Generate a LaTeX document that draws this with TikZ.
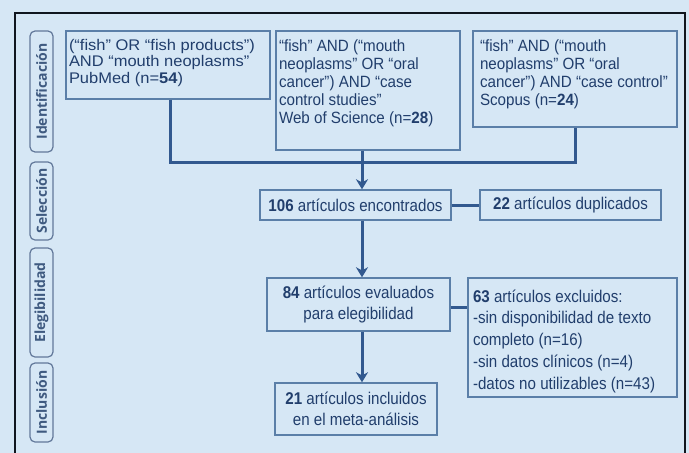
\documentclass[tikz,border=0pt]{standalone}
\usepackage{fontspec}
\setmainfont{Liberation Sans}
\newfontfamily\fA[FakeStretch=1.07]{Liberation Sans}
\newfontfamily\fB[FakeStretch=0.93]{Liberation Sans}
\newfontfamily\fC[FakeStretch=0.89]{Liberation Sans}
\newfontfamily\tabfont{Open Sans}
\usetikzlibrary{arrows.meta}

\definecolor{bgc}{HTML}{D6E7F5}
\definecolor{txt}{HTML}{213E6C}
\definecolor{boxc}{HTML}{5B7FA8}
\definecolor{conn}{HTML}{32598F}
\definecolor{tabc}{HTML}{62789A}
\definecolor{tabt}{HTML}{3F5A80}
\definecolor{framec}{HTML}{10161F}

% top-aligned, left-aligned text block: width, height, first baseline, text
\newcommand\tb[4]{\parbox[c][#2][t]{#1}{\raggedright\rule{0pt}{#3}#4}}

\tikzset{
  box/.style={draw=boxc, line width=1.4pt, text=txt, inner ysep=0pt},
  cbox/.style={box, inner xsep=0pt, align=center,
    font=\fC\fontsize{17}{21}\selectfont},
  tabbox/.style={draw=tabc, line width=1.2pt, rounded corners=5pt, rotate=90,
    minimum height=23pt, inner sep=0pt, text=tabt,
    font=\tabfont\bfseries\fontsize{14}{14}\selectfont},
  link/.style={draw=conn, line width=3pt},
  arr/.style={link, -{Stealth[length=10pt,width=12pt,inset=3pt]}},
}

\begin{document}
\begin{tikzpicture}[x=1pt,y=-1pt]
\useasboundingbox (0,0) rectangle (689,453);
\fill[bgc] (0,0) rectangle (689,453);
\draw[framec, line width=2.8pt] (15,13) rectangle (685,475);

% stage tabs
\node[tabbox, minimum width=121pt] (tId)  at (41.5,91.5)  {Identificación};
\node[tabbox, minimum width=78pt]  (tSel) at (41.5,201)   {Selección};
\node[tabbox, minimum width=109pt] (tEle) at (41.5,302.5) {Elegibilidad};
\node[tabbox, minimum width=79pt]  (tInc) at (41.5,402.5) {Inclusión};

% database searches
\node[box, inner xsep=3pt, font=\fA\fontsize{15.4}{16.8}\selectfont] (b1) at (168,65)
  {\tb{198pt}{68pt}{19pt}{(“fish” OR “fish products”)\\AND “mouth neoplasms”\\PubMed (n=\textbf{54})}};
\node[box, inner xsep=3pt, font=\fB\fontsize{16.3}{18.2}\selectfont] (b2) at (368,90.5)
  {\tb{178pt}{119pt}{20pt}{“fish” AND (“mouth\\neoplasms” OR “oral\\cancer”) AND “case\\control studies”\\Web of Science (n=\textbf{28})}};
\node[box, inner xsep=7pt, font=\fB\fontsize{16.3}{18.2}\selectfont] (b3) at (575,79)
  {\tb{190pt}{96pt}{20pt}{“fish” AND (“mouth\\neoplasms” OR “oral\\cancer”) AND “case control”\\Scopus (n=\textbf{24})}};

% screening
\node[cbox, minimum width=191pt, minimum height=30pt] (b106) at (355.5,205)
  {\textbf{106} artículos encontrados};
\node[cbox, minimum width=181pt, minimum height=30pt] (b22) at (570.5,205)
  {\textbf{22} artículos duplicados};

% eligibility
\node[cbox, minimum width=183pt, minimum height=53pt] (b84) at (358.5,304.5)
  {\textbf{84} artículos evaluados\\para elegibilidad};
\node[box, inner xsep=5pt, font=\fC\fontsize{17}{21.8}\selectfont] (b63) at (572.5,337.5)
  {\tb{199pt}{119pt}{24pt}{\textbf{63} artículos excluidos:\\-sin disponibilidad de texto\\completo (n=16)\\-sin datos clínicos (n=4)\\-datos no utilizables (n=43)}};

% inclusion
\node[cbox, minimum width=162pt, minimum height=52pt] (b21) at (356,409)
  {\textbf{21} artículos incluidos\\en el meta-análisis};

% connectors
\coordinate (join) at (362,162);
\draw[link] (b1.south -| 170,0) -- (170,162) -- (join -| b3.south) -- (b3.south);
\draw[arr] (b2.south -| join) -- (b106.north -| join);
\draw[link] (b106.east) -- (b22.west);
\draw[arr] (b106.south -| join) -- (b84.north -| join);
\draw[link] (b84.east |- 0,307) -- (b63.west |- 0,307);
\draw[arr] (b84.south -| join) -- (b21.north -| join);
\end{tikzpicture}
\end{document}
